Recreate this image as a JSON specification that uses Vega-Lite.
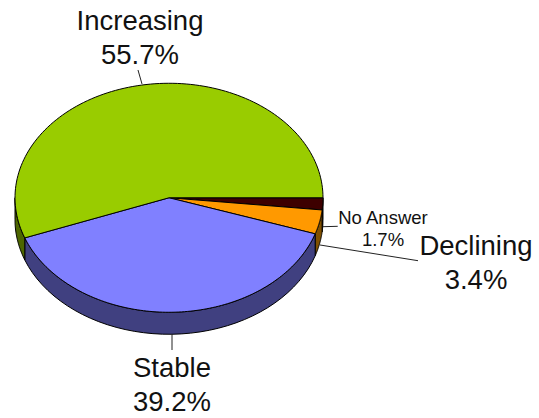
{
  "$schema": "https://vega.github.io/schema/vega-lite/v6.json",
  "width": 539,
  "height": 418,
  "autosize": {"type": "fit", "contains": "padding"},
  "padding": 0,
  "background": "white",
  "config": {"view": {"stroke": null}},
  "data": {"values": [
    {"slice": "No Answer", "share": 1.7},
    {"slice": "Declining", "share": 3.4},
    {"slice": "Stable", "share": 39.2},
    {"slice": "Increasing", "share": 55.7}
  ]},
  "transform": [
    {"stack": "share", "as": ["s0", "s1"], "groupby": []},
    {"calculate": "datum.s0 / 100 * 2 * PI", "as": "a0"},
    {"calculate": "datum.s1 / 100 * 2 * PI", "as": "a1"}
  ],
  "resolve": {"scale": {"fill": "independent"}},
  "layer": [
    {
      "transform": [
        {"filter": "datum.a0 < PI"},
        {"calculate": "sequence(0, 41)", "as": "steps"},
        {"flatten": ["steps"], "as": ["i"]},
        {"calculate": "datum.a0 + (min(datum.a1, PI) - datum.a0) * datum.i / 40", "as": "a"},
        {"calculate": "cos(datum.a)", "as": "px"},
        {"calculate": "-0.7435 * sin(datum.a)", "as": "py"},
        {"calculate": "datum.py - 0.1429", "as": "pyLow"}
      ],
      "mark": {"type": "area", "stroke": "black", "strokeWidth": 1},
      "encoding": {
        "x": {"field": "px", "type": "quantitative", "axis": null, "scale": {"domain": [-1.0974, 2.4026], "nice": false, "zero": false}},
        "y": {"field": "py", "type": "quantitative", "axis": null, "scale": {"domain": [-1.4301, 1.2842], "nice": false, "zero": false}},
        "y2": {"field": "pyLow"},
        "fill": {
          "field": "slice", "type": "nominal", "legend": null,
          "scale": {"domain": ["No Answer", "Declining", "Stable", "Increasing"], "range": ["#200000", "#805000", "#404080", "#4d6600"]}
        }
      }
    },
    {
      "transform": [
        {"calculate": "sequence(0, 122)", "as": "steps"},
        {"flatten": ["steps"], "as": ["i"]},
        {"calculate": "datum.a0 + (datum.a1 - datum.a0) * min(datum.i, 120) / 120", "as": "a"},
        {"calculate": "datum.i == 121 ? 0 : cos(datum.a)", "as": "px"},
        {"calculate": "datum.i == 121 ? 0 : -0.7435 * sin(datum.a)", "as": "py"}
      ],
      "mark": {"type": "line", "interpolate": "linear-closed", "stroke": "black", "strokeWidth": 1},
      "encoding": {
        "x": {"field": "px", "type": "quantitative"},
        "y": {"field": "py", "type": "quantitative"},
        "order": {"field": "i", "type": "quantitative"},
        "fill": {
          "field": "slice", "type": "nominal", "legend": null,
          "scale": {"domain": ["No Answer", "Declining", "Stable", "Increasing"], "range": ["#3d0000", "#ff9900", "#8080ff", "#99cc00"]}
        }
      }
    },
    {
      "transform": [
        {"calculate": "{'Increasing': -0.2013, 'Stable': 0.0195, 'Declining': 0.9805, 'No Answer': 1.0}[datum.slice]", "as": "x1"},
        {"calculate": "{'Increasing': -0.1753, 'Stable': 0.0195, 'Declining': 1.6169, 'No Answer': 1.0955}[datum.slice]", "as": "x2"},
        {"calculate": "{'Increasing': 0.8297, 'Stable': -0.8846, 'Declining': -0.3067, 'No Answer': -0.1879}[datum.slice]", "as": "y1"},
        {"calculate": "{'Increasing': 0.7388, 'Stable': -0.9885, 'Declining': -0.4086, 'No Answer': -0.1853}[datum.slice]", "as": "y2"}
      ],
      "mark": {"type": "rule", "color": "#222222", "strokeWidth": 1},
      "encoding": {
        "x": {"field": "x1", "type": "quantitative"},
        "x2": {"field": "x2"},
        "y": {"field": "y1", "type": "quantitative"},
        "y2": {"field": "y2"}
      }
    },
    {
      "transform": [
        {"filter": "datum.slice != 'No Answer'"},
        {"calculate": "{'Increasing': -0.1883, 'Stable': 0.0195, 'Declining': 1.9935}[datum.slice]", "as": "tx"},
        {"calculate": "{'Increasing': 1.0894, 'Stable': -1.1638, 'Declining': -0.3716}[datum.slice]", "as": "ty"},
        {"calculate": "datum.slice + '\\n' + datum.share + '%'", "as": "caption"}
      ],
      "mark": {"type": "text", "font": "Liberation Sans", "fontSize": 27.5, "lineBreak": "\n", "lineHeight": 34, "align": "center", "baseline": "alphabetic", "color": "#111111"},
      "encoding": {
        "x": {"field": "tx", "type": "quantitative"},
        "y": {"field": "ty", "type": "quantitative"},
        "text": {"field": "caption"}
      }
    },
    {
      "transform": [
        {"filter": "datum.slice == 'No Answer'"},
        {"calculate": "1.3896", "as": "tx"},
        {"calculate": "-0.1703", "as": "ty"},
        {"calculate": "datum.slice + '\\n' + datum.share + '%'", "as": "caption"}
      ],
      "mark": {"type": "text", "font": "Liberation Sans", "fontSize": 18.5, "lineBreak": "\n", "lineHeight": 22, "align": "center", "baseline": "alphabetic", "color": "#111111"},
      "encoding": {
        "x": {"field": "tx", "type": "quantitative"},
        "y": {"field": "ty", "type": "quantitative"},
        "text": {"field": "caption"}
      }
    }
  ]
}
